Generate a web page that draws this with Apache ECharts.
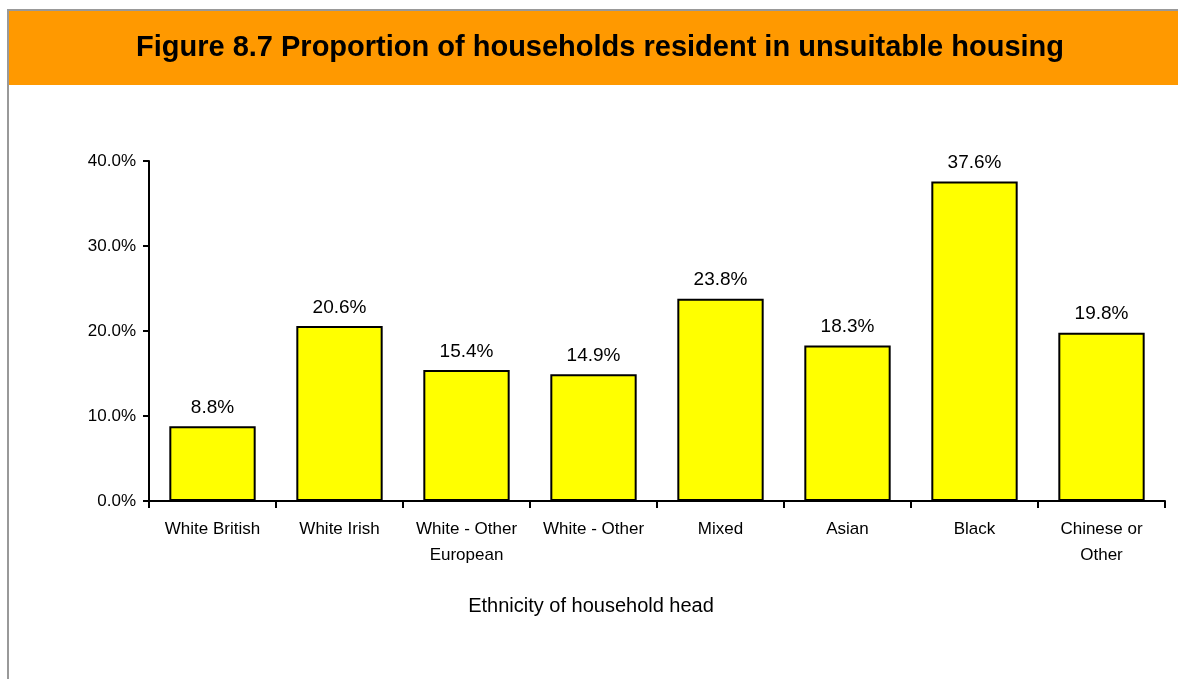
<!DOCTYPE html>
<html>
<head>
<meta charset="utf-8">
<script src="https://cdn.jsdelivr.net/npm/echarts@6/dist/echarts.min.js"></script>
<style>
  html, body { margin: 0; padding: 0; background: #fff; }
  #chart { width: 1178px; height: 679px; }
</style>
</head>
<body>
<div id="chart"></div>
<script>
  var categories = ['White British', 'White Irish', 'White - Other\nEuropean', 'White - Other', 'Mixed', 'Asian', 'Black', 'Chinese or\nOther'];
  var shares = [8.8, 20.6, 15.4, 14.9, 23.8, 18.3, 37.6, 19.8];
  var titleText = 'Figure 8.7 Proportion of households resident in unsuitable housing';
  var xName = 'Ethnicity of household head';

  var font = '"Liberation Sans", Arial, sans-serif';
  var myChart = echarts.init(document.getElementById('chart'));

  var option = {
    backgroundColor: '#fff',
    animation: false,
    graphic: [
      // frame (top and left edges) and orange title band
      { type: 'rect', shape: { x: 8, y: 10, width: 1180, height: 700 }, style: { fill: 'none', stroke: '#999', lineWidth: 2 }, z: 1 },
      { type: 'rect', shape: { x: 9, y: 11, width: 1170, height: 74 }, style: { fill: '#FF9900' }, z: 2 },
      { type: 'text', x: 600, y: 48, style: { text: titleText, fill: '#000', font: 'bold 29px ' + font, textAlign: 'center', textVerticalAlign: 'middle' }, z: 3 }
    ],
    grid: { left: 149, right: 13, top: 161, bottom: 178 },
    xAxis: {
      type: 'category',
      data: categories,
      name: xName,
      nameLocation: 'middle',
      nameGap: 95,
      nameTextStyle: { fontFamily: font, fontSize: 20, color: '#000', padding: [0, 132, 0, 0] },
      axisLine: { lineStyle: { color: '#000', width: 2 } },
      axisTick: { show: true, length: 7, lineStyle: { color: '#000', width: 2 } },
      axisLabel: { fontFamily: font, fontSize: 17, color: '#000', margin: 15, lineHeight: 26, interval: 0 }
    },
    yAxis: {
      type: 'value',
      min: 0,
      max: 40,
      interval: 10,
      splitLine: { show: false },
      axisLine: { show: true, lineStyle: { color: '#000', width: 2 } },
      axisTick: { show: true, length: 6, lineStyle: { color: '#000', width: 2 } },
      axisLabel: { fontFamily: font, fontSize: 17, color: '#000', margin: 13, formatter: function (v) { return v.toFixed(1) + '%'; } }
    },
    series: [{
      type: 'bar',
      data: shares,
      barWidth: '68%',
      itemStyle: { color: '#FFFF00', borderColor: '#000', borderWidth: 2 },
      label: {
        show: true,
        position: 'top',
        distance: 9,
        fontFamily: font,
        fontSize: 19,
        color: '#000',
        formatter: function (p) { return p.value.toFixed(1) + '%'; }
      }
    }]
  };

  myChart.setOption(option);
</script>
</body>
</html>
